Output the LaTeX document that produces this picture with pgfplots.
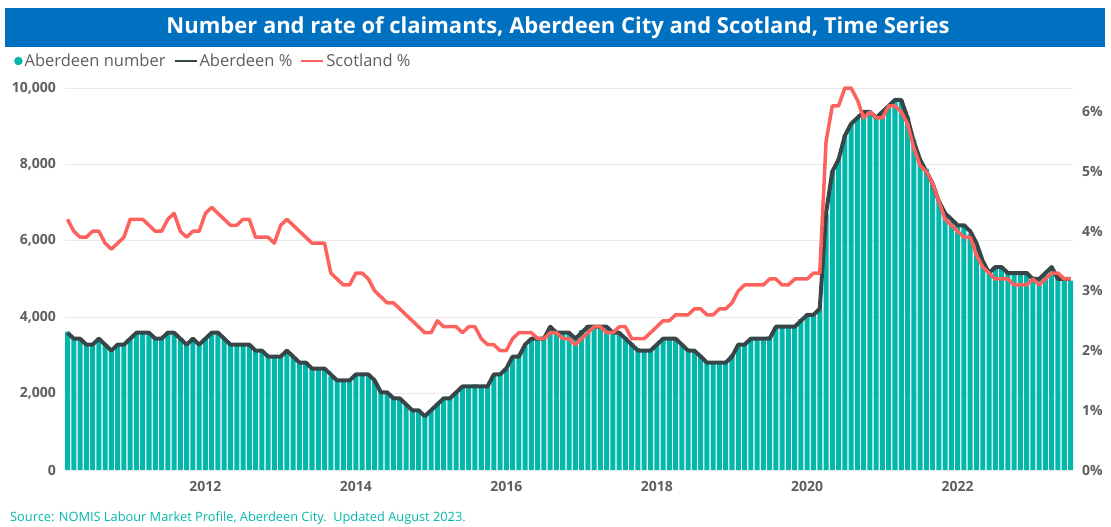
\documentclass[border=0pt]{standalone}
\usepackage{pgfplots}
\pgfplotsset{compat=1.18}
\usepackage{pgfplotstable}
\usepackage{fontspec}
\setmainfont{Open Sans}
\definecolor{barteal}{HTML}{01B8AA}
\definecolor{abdark}{HTML}{374649}
\definecolor{scotred}{HTML}{FD625E}
\definecolor{txtgray}{HTML}{605E5C}
\definecolor{titleblue}{HTML}{0070C0}
\definecolor{gridgray}{HTML}{EAEAEA}

% m = month index (0 = Mar 2010 ... 160 = Jul 2023)
\pgfplotstableread{
m num ab sc
0 3620 2.3 4.2
1 3480 2.2 4.0
2 3430 2.2 3.9
3 3290 2.1 3.9
4 3300 2.1 4.0
5 3420 2.2 4.0
6 3280 2.1 3.8
7 3140 2.0 3.7
8 3290 2.1 3.8
9 3310 2.1 3.9
10 3440 2.2 4.2
11 3590 2.3 4.2
12 3600 2.3 4.2
13 3580 2.3 4.1
14 3430 2.2 4.0
15 3440 2.2 4.0
16 3590 2.3 4.2
17 3600 2.3 4.3
18 3450 2.2 4.0
19 3290 2.1 3.9
20 3430 2.2 4.0
21 3290 2.1 4.0
22 3450 2.2 4.3
23 3610 2.3 4.4
24 3600 2.3 4.3
25 3440 2.2 4.2
26 3300 2.1 4.1
27 3290 2.1 4.1
28 3310 2.1 4.2
29 3290 2.1 4.2
30 3150 2.0 3.9
31 3130 2.0 3.9
32 3000 1.9 3.9
33 2970 1.9 3.8
34 2960 1.9 4.1
35 3100 2.0 4.2
36 2960 1.9 4.1
37 2840 1.8 4.0
38 2830 1.8 3.9
39 2680 1.7 3.8
40 2660 1.7 3.8
41 2650 1.7 3.8
42 2450 1.6 3.3
43 2320 1.5 3.2
44 2310 1.5 3.1
45 2320 1.5 3.1
46 2460 1.6 3.3
47 2470 1.6 3.3
48 2450 1.6 3.2
49 2330 1.5 3.0
50 2080 1.3 2.9
51 2050 1.3 2.8
52 1930 1.2 2.8
53 1860 1.2 2.7
54 1720 1.1 2.6
55 1590 1.0 2.5
56 1580 1.0 2.4
57 1450 0.9 2.3
58 1590 1.0 2.3
59 1740 1.1 2.5
60 1850 1.2 2.4
61 1860 1.2 2.4
62 2010 1.3 2.4
63 2180 1.4 2.3
64 2200 1.4 2.4
65 2240 1.4 2.4
66 2180 1.4 2.2
67 2190 1.4 2.1
68 2490 1.6 2.1
69 2510 1.6 2.0
70 2640 1.7 2.0
71 2930 1.9 2.2
72 3020 1.9 2.3
73 3240 2.1 2.3
74 3400 2.2 2.3
75 3480 2.2 2.2
76 3490 2.2 2.2
77 3700 2.4 2.3
78 3590 2.3 2.3
79 3580 2.3 2.2
80 3590 2.3 2.2
81 3450 2.2 2.1
82 3660 2.3 2.2
83 3790 2.4 2.3
84 3780 2.4 2.4
85 3760 2.4 2.4
86 3700 2.4 2.3
87 3580 2.3 2.3
88 3590 2.3 2.4
89 3480 2.2 2.4
90 3320 2.1 2.2
91 3190 2.0 2.2
92 3160 2.0 2.2
93 3170 2.0 2.3
94 3280 2.1 2.4
95 3420 2.2 2.5
96 3410 2.2 2.5
97 3400 2.2 2.6
98 3270 2.1 2.6
99 3150 2.0 2.6
100 3140 2.0 2.7
101 3010 1.9 2.7
102 2820 1.8 2.6
103 2810 1.8 2.6
104 2820 1.8 2.7
105 2830 1.8 2.7
106 3020 1.9 2.8
107 3270 2.1 3.0
108 3320 2.1 3.1
109 3410 2.2 3.1
110 3420 2.2 3.1
111 3410 2.2 3.1
112 3500 2.2 3.2
113 3720 2.4 3.2
114 3760 2.4 3.1
115 3750 2.4 3.1
116 3800 2.4 3.2
117 3950 2.5 3.2
118 4060 2.6 3.2
119 4050 2.6 3.3
120 4200 2.7 3.3
121 6700 4.3 5.5
122 7800 5.0 6.1
123 8150 5.2 6.1
124 8750 5.6 6.4
125 9050 5.8 6.4
126 9230 5.9 6.2
127 9320 6.0 5.9
128 9300 6.0 6.0
129 9250 5.9 5.9
130 9330 6.0 5.9
131 9480 6.1 6.1
132 9700 6.2 6.1
133 9680 6.2 6.0
134 9250 5.9 5.8
135 8640 5.5 5.4
136 8080 5.2 5.1
137 7880 5.0 5.0
138 7480 4.8 4.8
139 7050 4.5 4.5
140 6700 4.3 4.2
141 6500 4.2 4.1
142 6420 4.1 4.0
143 6400 4.1 3.9
144 6180 4.0 3.9
145 5840 3.8 3.6
146 5450 3.5 3.4
147 5200 3.3 3.3
148 5320 3.4 3.2
149 5310 3.4 3.2
150 5190 3.3 3.2
151 5180 3.3 3.1
152 5200 3.3 3.1
153 5190 3.3 3.1
154 5060 3.2 3.2
155 5020 3.2 3.1
156 5100 3.3 3.2
157 5260 3.4 3.3
158 5060 3.2 3.3
159 4950 3.2 3.2
160 4960 3.2 3.2
}\data

\pgfplotsset{
  legdot/.style={legend image code/.code={\fill[barteal] (6pt,0pt) circle (4pt);}},
  legdark/.style={legend image code/.code={\draw[abdark, line width=2pt] (0pt,0pt) -- (22pt,0pt);}},
  legred/.style={legend image code/.code={\draw[scotred, line width=2pt] (0pt,0pt) -- (22pt,0pt);}},
}

\begin{document}
\begin{tikzpicture}
\path[use as bounding box] (0pt,0pt) rectangle (1111pt,527pt);
% title band
\fill[titleblue] (5pt,480pt) rectangle (1105pt,519pt);
\node[text=white, font=\fontsize{22}{26}\selectfont\bfseries] at (558pt,499.5pt)
  {Number and rate of claimants, Aberdeen City and Scotland, Time Series};
% source
\node[anchor=west, text=barteal, font=\fontsize{12.8}{15}\selectfont, inner sep=0pt] at (10pt,9pt)
  {Source: NOMIS Labour Market Profile, Aberdeen City.\ \ Updated August 2023.};

\begin{axis}[
  at={(65pt,57pt)}, anchor=south west,
  width=1008pt, height=382pt, scale only axis,
  xmin=-0.4, xmax=160.4, ymin=0, ymax=10000,
  scaled y ticks=false,
  axis line style={draw=none}, major tick length=0pt,
  ymajorgrids, grid style={gridgray, line width=0.8pt},
  ytick={0,2000,4000,6000,8000,10000},
  yticklabels={0,{2,000},{4,000},{6,000},{8,000},{10,000}},
  xtick={22,46,70,94,118,142},
  xticklabels={2012,2014,2016,2018,2020,2022},
  /pgf/number format/assume math mode=true,
  ticklabel style={text=txtgray, font=\fontsize{14}{16}\selectfont\bfseries},
  yticklabel style={anchor=east, inner sep=0pt, xshift=-9pt},
  xticklabel style={anchor=north, inner sep=0pt, yshift=-11pt},
  clip=false,
]
\addplot[ybar, bar width=0.8, fill=barteal, draw=none, bar shift=0pt] table[x=m, y=num] {\data};
\end{axis}

\begin{axis}[
  at={(65pt,57pt)}, anchor=south west,
  width=1008pt, height=382pt, scale only axis,
  xmin=-0.4, xmax=160.4, ymin=0, ymax=6.4,
  axis x line=none, axis y line*=right,
  axis line style={draw=none}, major tick length=0pt,
  ytick={0,1,2,3,4,5,6},
  yticklabels={0\%,1\%,2\%,3\%,4\%,5\%,6\%},
  /pgf/number format/assume math mode=true,
  ticklabel style={text=txtgray, font=\fontsize{14}{16}\selectfont\bfseries},
  yticklabel style={anchor=west, inner sep=0pt, xshift=9pt},
  clip=false,
  legend style={at={(-0.0506,1.0707)}, anchor=west, draw=none, fill=none,
    font=\fontsize{16.5}{18}\selectfont, text=txtgray, inner sep=0pt,
    /tikz/every even column/.append style={column sep=6pt},
    /tikz/every odd column/.append style={column sep=0pt}},
  legend columns=3, legend cell align=left,
]
\addlegendimage{legdot}
\addlegendentry{Aberdeen number}
\addlegendimage{legdark}
\addlegendentry{Aberdeen \%}
\addlegendimage{legred}
\addlegendentry{Scotland \%}
\addplot[forget plot, abdark, line width=4pt, line join=round] table[x=m, y=ab] {\data};
\addplot[forget plot, scotred, line width=3.5pt, line join=round] table[x=m, y=sc] {\data};
\end{axis}
\end{tikzpicture}
\end{document}
